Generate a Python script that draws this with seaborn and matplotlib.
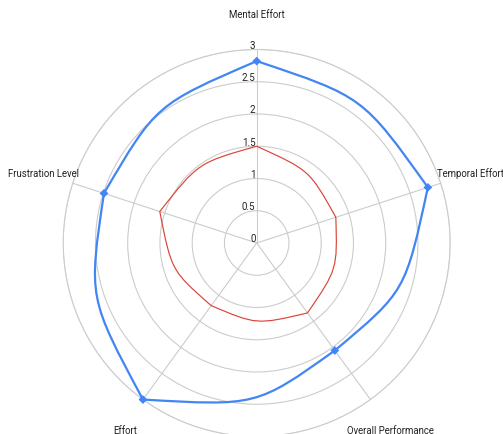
import numpy as np
import matplotlib
matplotlib.use("Agg")
import matplotlib.pyplot as plt
import matplotlib.transforms as mtransforms
from matplotlib.path import Path
from matplotlib.patches import PathPatch
import seaborn as sns

# Workload dimensions and the two scored profiles
categories = ["Mental Effort", "Temporal Effort", "Overall Performance", "Effort", "Frustration Level"]
profile_high = [2.82, 2.79, 2.06, 3.0, 2.49]
profile_low = [1.5, 1.29, 1.34, 1.2, 1.58]
radial_ticks = [0, 0.5, 1, 1.5, 2, 2.5, 3]
radial_tick_labels = ["0", "0.5", "1", "1.5", "2", "2.5", "3"]

sns.set_theme(style="white")
plt.rcParams["font.family"] = ["Roboto", "DejaVu Sans"]

W, H = 503, 435
fig = plt.figure(figsize=(W / 100, H / 100), dpi=100)

# polar area: centre and outer radius in pixels
cx, cy, rad = 256.7, 244.0, 193.5
ax = fig.add_axes([(cx - rad) / W, (H - cy - rad) / H, 2 * rad / W, 2 * rad / H],
                  projection="polar")
ax.set_theta_zero_location("N")
ax.set_theta_direction(-1)
ax.set_ylim(0, 3)

n = len(categories)
angles = [2 * np.pi * i / n for i in range(n)]
closed_angles = angles + [2 * np.pi]


def smooth_outline(values):
    """Closed outline: each edge is a cubic bowed toward the polar midpoint of its vertices."""
    verts, codes = [], []
    for i in range(n):
        t0, t1 = closed_angles[i], closed_angles[i + 1]
        r0, r1 = values[i], values[(i + 1) % n]
        p0, pm, p1 = ax.transData.transform([(t0, r0), ((t0 + t1) / 2, (r0 + r1) / 2), (t1, r1)])
        if i == 0:
            verts.append(p0)
            codes.append(Path.MOVETO)
        verts += [pm, pm, p1]
        codes += [Path.CURVE4] * 3
    return Path(np.array(verts), codes)


for vals, col, lw in [(profile_low, "#DB4437", 0.85), (profile_high, "#4285F4", 1.6)]:
    ax.add_patch(PathPatch(smooth_outline(vals), transform=mtransforms.IdentityTransform(),
                           fill=False, edgecolor=col, linewidth=lw, joinstyle="round",
                           clip_on=False, zorder=3))

sns.scatterplot(x=angles, y=profile_high, marker="D", s=20, color="#4285F4",
                edgecolor="none", linewidth=0, ax=ax, clip_on=False, zorder=4)

ax.set_ylim(0, 3)
ax.set_xticks(angles)
ax.set_xticklabels([])
ax.set_yticks(radial_ticks[1:])
ax.set_yticklabels([])
ax.set_xlabel("")
ax.set_ylabel("")
ax.grid(True, color="#cccccc", linewidth=0.8)
ax.spines["polar"].set_color("#cccccc")
ax.spines["polar"].set_linewidth(0.8)
ax.set_facecolor("white")

# radial value labels along the vertical axis
lab_tr = mtransforms.offset_copy(ax.transData, fig=fig, x=-1.2, y=1.6, units="dots")
for v, s in zip(radial_ticks, radial_tick_labels):
    ax.text(0, v, s, transform=lab_tr, ha="right", va="baseline",
            fontsize=7.0, color="#222222", zorder=5)

# category labels around the chart (pixel anchors)
label_pos = [(256.7, 17.7, "center"), (437.0, 177.0, "left"), (390.0, 434.0, "center"),
             (124.7, 434.0, "center"), (79.0, 177.3, "right")]
for name, (px, py, ha) in zip(categories, label_pos):
    fig.text(px / W, (H - py) / H, name, ha=ha, va="baseline", fontsize=6.95, color="#222222")

fig.savefig("out.png", dpi=100, facecolor="white")
